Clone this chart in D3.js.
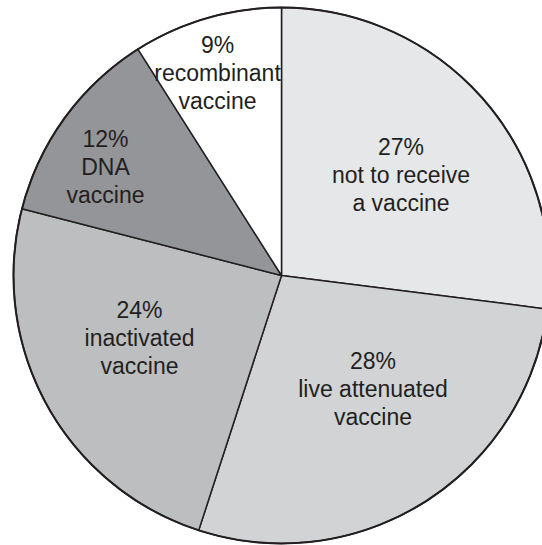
<!DOCTYPE html>
<html>
<head>
<meta charset="utf-8">
<script src="https://cdn.jsdelivr.net/npm/d3@7"></script>
<style>
  html, body { margin: 0; padding: 0; background: #ffffff; }
  svg { display: block; }
</style>
</head>
<body>
<svg id="chart" width="542" height="545"></svg>
<script>
// Vaccine preference shares (percent), clockwise from 12 o'clock
const categories = ["not to receive\na vaccine", "live attenuated\nvaccine", "inactivated\nvaccine", "DNA\nvaccine", "recombinant\nvaccine"];
const shares = [27, 28, 24, 12, 9];
const fills = ["#e6e7e8", "#d1d3d4", "#bcbec0", "#939598", "#ffffff"];

// Label anchor (middle line baseline), offset from the pie centre
const labelOffsets = [[119.5, -92.5], [91.5, 121.5], [-142, 70.5], [-176, -101], [-64, -194.5]];

const width = 542, height = 545;
const cx = 281.5, cy = 275.5, radius = 268;
const ink = "#231f20";
const lineGap = 28;

const svg = d3.select("#chart");
const g = svg.append("g").attr("transform", `translate(${cx},${cy})`);

const data = categories.map((c, i) => ({ label: c, value: shares[i], fill: fills[i], offset: labelOffsets[i] }));

const pie = d3.pie().value(d => d.value).sort(null).startAngle(0).endAngle(2 * Math.PI);
const arc = d3.arc().innerRadius(0).outerRadius(radius);
const arcs = pie(data);

g.selectAll("path.slice")
  .data(arcs)
  .join("path")
  .attr("class", "slice")
  .attr("d", arc)
  .attr("fill", d => d.data.fill)
  .attr("stroke", ink)
  .attr("stroke-width", 1.5)
  .attr("stroke-linejoin", "round");

// Outer rim drawn a touch heavier
g.append("circle")
  .attr("r", radius)
  .attr("fill", "none")
  .attr("stroke", ink)
  .attr("stroke-width", 2);

const labels = g.selectAll("text.lbl")
  .data(arcs)
  .join("text")
  .attr("class", "lbl")
  .attr("text-anchor", "middle")
  .attr("font-family", "Helvetica, Arial, 'Liberation Sans', sans-serif")
  .attr("font-size", 23)
  .attr("fill", ink)
  .attr("transform", d => `translate(${d.data.offset[0]},${d.data.offset[1]})`);

labels.each(function(d) {
  const lines = [d.data.value + "%"].concat(d.data.label.split("\n"));
  const t = d3.select(this);
  lines.forEach((ln, i) => {
    t.append("tspan")
      .attr("x", 0)
      .attr("y", (i - 1) * lineGap)
      .text(ln);
  });
});
</script>
</body>
</html>
